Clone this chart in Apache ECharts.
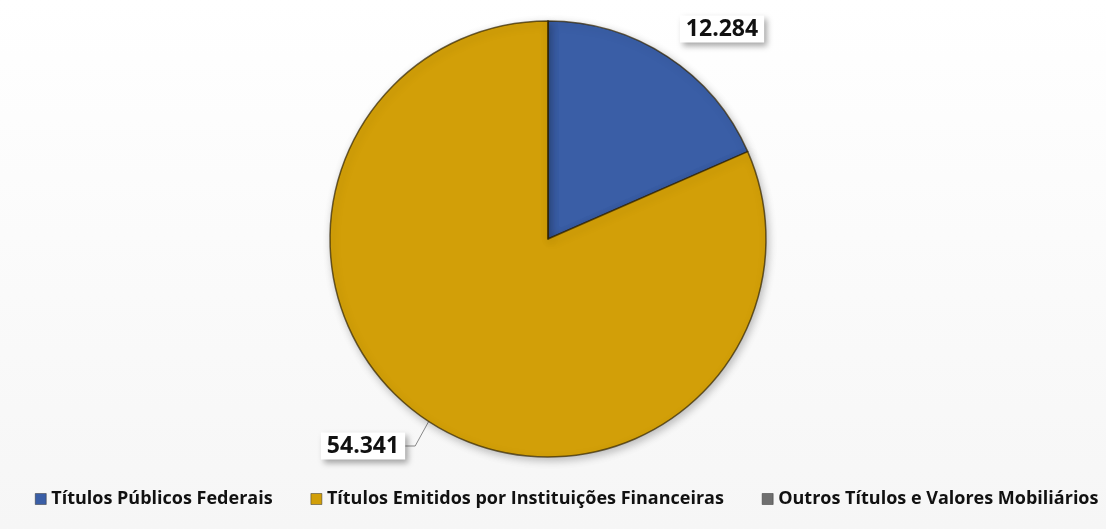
<!DOCTYPE html>
<html><head><meta charset="utf-8">
<script src="https://cdn.jsdelivr.net/npm/echarts@6/dist/echarts.min.js"></script>
<style>html,body{margin:0;padding:0;background:#fafafa}#c{width:1106px;height:529px}</style>
</head><body><div id="c"></div>
<script>
const categories = ['Títulos Públicos Federais', 'Títulos Emitidos por Instituições Financeiras', 'Outros Títulos e Valores Mobiliários'];
const values = [12.284, 54.341, 0];
const labelTexts = ['12.284', '54.341', ''];
const colors = ['#3a5ea6', '#d29f08', '#6f6f6f'];

const chart = echarts.init(document.getElementById('c'));
chart.setOption({
  backgroundColor: new echarts.graphic.LinearGradient(0, 0, 0, 1, [
    {offset: 0, color: '#ffffff'}, {offset: 1, color: '#f6f6f6'}
  ]),
  animation: false,
  legend: {
    bottom: 21, left: 35, width: 1100, padding: 0, itemWidth: 11, itemHeight: 11, itemGap: 38,
    icon: 'rect',
    itemStyle: {borderColor: '#333', borderWidth: 0.5},
    textStyle: {fontFamily: 'Open Sans', fontWeight: 'bold', fontSize: 18, color: '#111'},
    data: categories
  },
  series: [{
    type: 'pie',
    center: [548, 239], radius: 218,
    startAngle: 90, clockwise: true,
    avoidLabelOverlap: false,
    itemStyle: {borderColor: 'rgba(50,35,0,0.7)', borderWidth: 1.5,
      shadowBlur: 8, shadowColor: 'rgba(0,0,0,0.25)', shadowOffsetX: 2, shadowOffsetY: 3},
    label: {
      show: true, position: 'outside',
      formatter: p => labelTexts[p.dataIndex],
      fontFamily: 'Open Sans', fontWeight: 'bold', fontSize: 23, color: '#111',
      backgroundColor: '#fff', padding: [3, 6, 1, 6],
      shadowBlur: 6, shadowColor: 'rgba(0,0,0,0.35)', shadowOffsetX: 3, shadowOffsetY: 3
    },
    labelLine: {show: true, length: 10, length2: 10, lineStyle: {color: '#888', width: 1}},
    labelLayout: function (p) {
      if (p.dataIndex === 0) return {x: 722, y: 29, align: 'center', verticalAlign: 'middle'};
      if (p.dataIndex === 1) return {x: 363, y: 446, align: 'center', verticalAlign: 'middle'};
      return {};
    },
    data: categories.map((n, i) => ({
      name: n, value: values[i],
      itemStyle: {color: colors[i]},
      label: i === 2 ? {show: false} : undefined,
      labelLine: i === 0 ? {show: false} : (i === 2 ? {show: false} : undefined)
    }))
  }]
});
</script></body></html>
